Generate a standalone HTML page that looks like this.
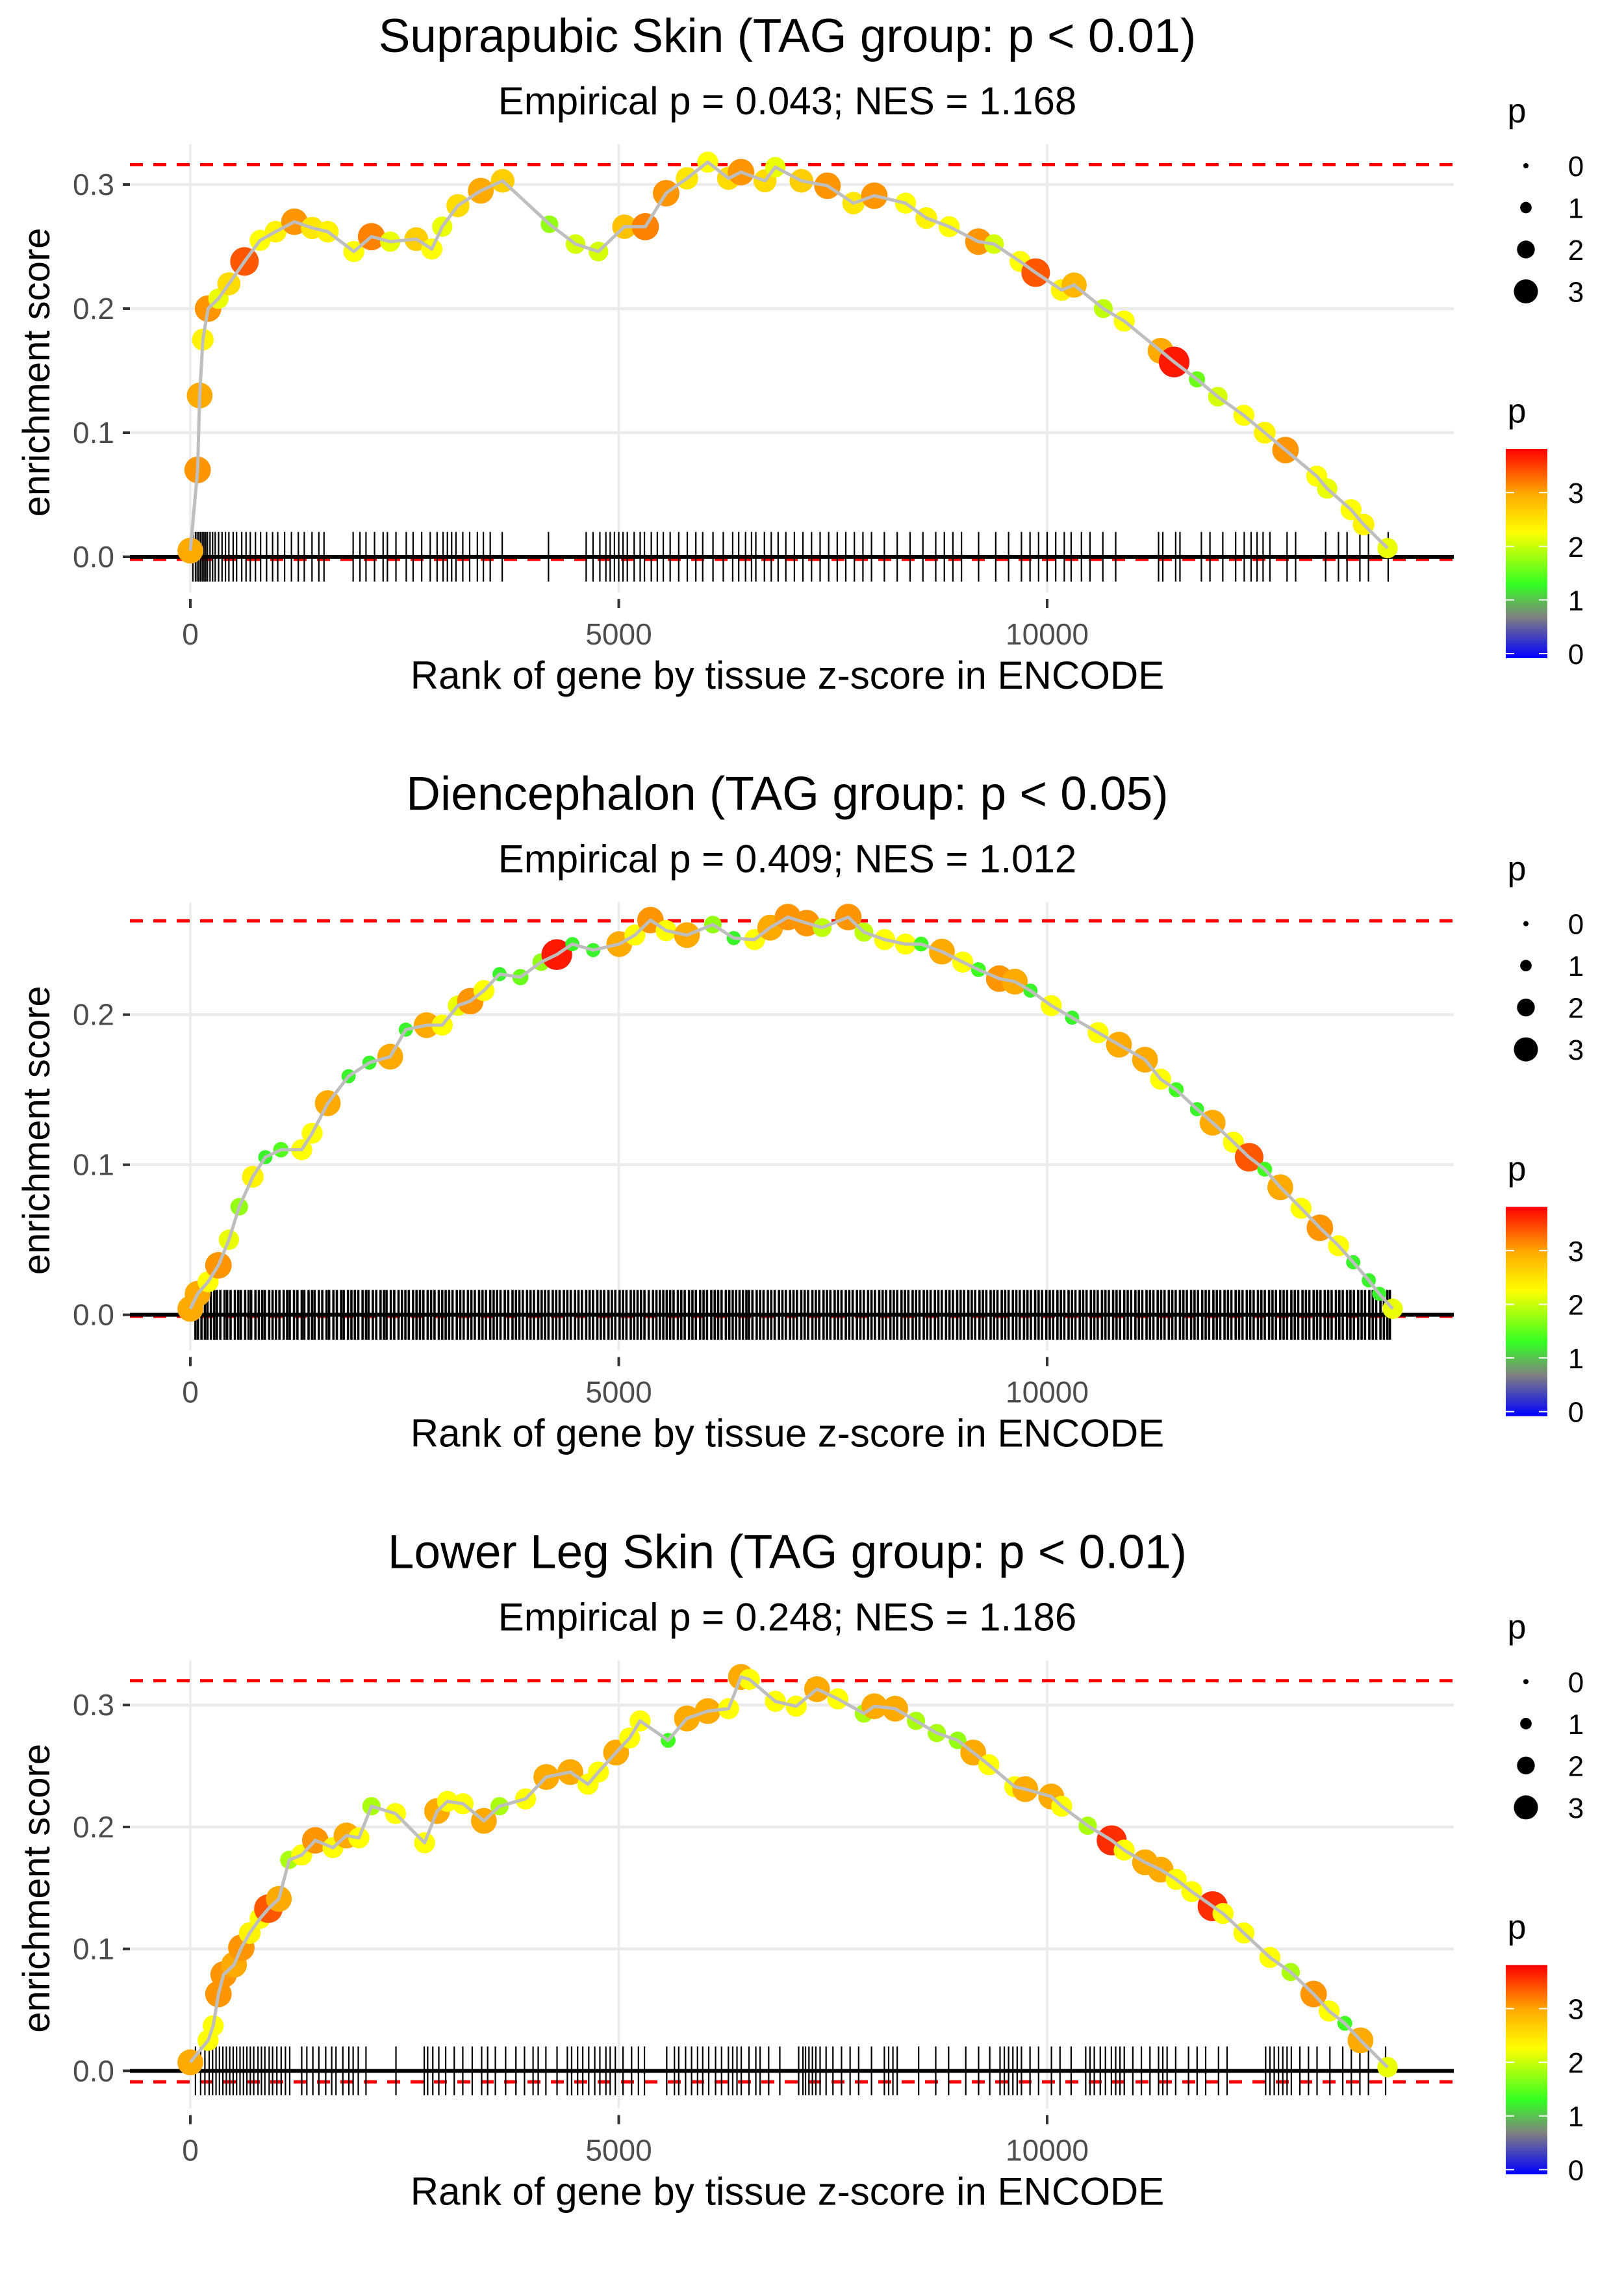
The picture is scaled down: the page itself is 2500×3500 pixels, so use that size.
<!DOCTYPE html>
<html>
<head>
<meta charset="utf-8">
<style>
html,body{margin:0;padding:0;background:#fff;}
svg{display:block;font-family:"Liberation Sans",sans-serif;}
</style>
</head>
<body>
<svg id="chart" width="2500" height="3500" viewBox="0 0 2500 3500" xmlns="http://www.w3.org/2000/svg">
<defs>
<linearGradient id="pgrad" x1="0" y1="1" x2="0" y2="0">
<stop offset="0" stop-color="#0000ff"/>
<stop offset="0.196" stop-color="#808080"/>
<stop offset="0.353" stop-color="#33ff22"/>
<stop offset="0.602" stop-color="#ffff00"/>
<stop offset="0.785" stop-color="#ffaa00"/>
<stop offset="1" stop-color="#ff0000"/>
</linearGradient>
</defs>
</svg>
<script>
// ---------- data ----------
const panelTitles = ["Suprapubic Skin (TAG group: p < 0.01)","Diencephalon (TAG group: p < 0.05)","Lower Leg Skin (TAG group: p < 0.01)"];
const panelSubtitles = ["Empirical p = 0.043; NES = 1.168","Empirical p = 0.409; NES = 1.012","Empirical p = 0.248; NES = 1.186"];
const xTicks = [0,5000,10000];
const xTickLabels = ["0","5000","10000"];
const yTicks1 = [0,0.1,0.2,0.3];
const yTicks2 = [0,0.1,0.2];
const yTicks3 = [0,0.1,0.2,0.3];
const yTickLabels1 = ["0.0","0.1","0.2","0.3"];
const yTickLabels2 = ["0.0","0.1","0.2"];
const yTickLabels3 = ["0.0","0.1","0.2","0.3"];
const esMax = [0.316,0.2625,0.32];
const esMin = [-0.002,-0.001,-0.009];
const sizeLegendValues = [0,1,2,3];
const colorLegendValues = [0,1,2,3];

const p1Rank = [0,85,109,146,207,328,450,632,814,996,1215,1422,1604,1908,2114,2333,2637,2819,2940,3123,3390,3645,4192,4496,4763,5067,5310,5553,5796,6039,6282,6427,6707,6828,7132,7436,7740,7983,8347,8590,8857,9198,9380,9684,9866,10170,10315,10656,10899,11324,11482,11749,11992,12296,12539,12782,13146,13268,13547,13693,13973];
const p1ES = [0.005,0.07,0.13,0.175,0.2,0.208,0.22,0.238,0.255,0.262,0.27,0.265,0.262,0.246,0.258,0.254,0.256,0.248,0.266,0.283,0.295,0.303,0.268,0.252,0.246,0.266,0.266,0.293,0.305,0.318,0.305,0.31,0.303,0.314,0.303,0.299,0.285,0.291,0.285,0.273,0.266,0.254,0.252,0.238,0.229,0.215,0.219,0.2,0.19,0.166,0.157,0.143,0.129,0.114,0.1,0.086,0.065,0.055,0.038,0.026,0.007];
const p1P = [3,3.1,3,2.4,3.1,2.2,2.6,3.4,2.3,2.4,3.1,2.5,2.4,2.3,3.2,2.2,2.7,2.3,2.2,2.6,3,2.7,1.8,2.1,2.1,2.8,3.2,3.1,2.5,2.3,2.6,3.1,2.6,2.2,2.7,3.1,2.5,3.1,2.3,2.4,2.3,3.1,2.1,2.3,3.4,2.4,2.9,2,2.3,3,3.7,1.6,2.1,2.3,2.4,3.1,2.3,2.2,2.3,2.4,2.2];
const p1Rug = [30,60,80,100,120,140,160,180,200,230,260,290,330,370,410,450,500,540,600,650,700,760,820,890,960,1020,1100,1180,1260,1330,1420,1500,1560,1900,1980,2050,2150,2250,2300,2400,2520,2600,2700,2800,2880,2950,3000,3050,3100,3180,3260,3350,3420,3500,3640,4180,4620,4700,4780,4850,4900,4950,5000,5050,5100,5180,5250,5300,5380,5450,5520,5600,5700,5800,5900,5980,6100,6220,6330,6400,6480,6550,6600,6700,6780,6860,6950,7050,7150,7250,7350,7450,7550,7650,7750,7850,7950,8100,8250,8400,8550,8700,8800,8900,9000,9200,9400,9550,9700,9800,9900,10000,10100,10200,10280,10400,10500,10650,10800,11300,11350,11500,11550,11800,11900,12050,12200,12300,12380,12450,12520,12600,12800,12900,13250,13400,13500,13650,13750,13980];

const p2Rank = [0,85,207,328,450,571,729,875,1057,1300,1422,1604,1847,2090,2333,2515,2758,2940,3123,3268,3426,3609,3852,4095,4277,4459,4702,5006,5188,5370,5553,5796,6099,6342,6585,6768,6974,7193,7375,7679,7861,8104,8347,8529,8772,9015,9198,9441,9623,9805,10048,10291,10595,10838,11142,11324,11506,11749,11931,12174,12357,12539,12721,12964,13183,13401,13572,13754,13875,14033];
const p2ES = [0.004,0.014,0.022,0.033,0.05,0.072,0.092,0.105,0.11,0.11,0.121,0.141,0.159,0.168,0.172,0.19,0.193,0.193,0.206,0.209,0.216,0.227,0.225,0.235,0.24,0.247,0.243,0.247,0.253,0.263,0.256,0.253,0.26,0.251,0.25,0.258,0.265,0.261,0.258,0.265,0.255,0.25,0.247,0.247,0.242,0.235,0.23,0.224,0.222,0.216,0.206,0.198,0.188,0.18,0.17,0.157,0.15,0.137,0.128,0.115,0.105,0.097,0.085,0.071,0.058,0.046,0.035,0.023,0.014,0.004];
const p2P = [3,3,2.3,3.1,2.2,1.8,2.4,1.3,1.5,2.3,2.3,3,1.3,1.3,3,1.3,3,2.3,2.2,3.1,2.3,1.3,1.6,1.8,3.7,1.3,1.3,3,2.3,3.1,2.3,3,1.8,1.3,2.3,3,3.1,3.1,2,3.1,2,2.3,2.3,1.4,3,2.3,1.4,3.1,3,1.3,2.3,1.3,2.3,3,3,2.3,1.4,1.3,3,2.3,3.4,1.4,3,2.3,3.1,2.3,1.3,1.3,1.3,2.2];
const p2Rug = [60,90,130,170,200,240,280,310,350,400,430,470,520,560,590,640,680,710,760,800,840,870,920,960,1000,1040,1090,1130,1160,1210,1250,1300,1330,1380,1420,1450,1500,1540,1590,1620,1670,1710,1760,1790,1840,1880,1920,1960,2010,2050,2080,2130,2170,2220,2260,2290,2340,2380,2430,2470,2510,2550,2600,2640,2680,2720,2770,2810,2850,2900,2940,2980,3020,3060,3110,3150,3190,3240,3280,3320,3370,3410,3450,3500,3540,3580,3620,3670,3710,3760,3800,3840,3880,3930,3970,4010,4060,4100,4140,4180,4230,4270,4310,4360,4400,4440,4490,4530,4570,4620,4660,4700,4750,4790,4830,4880,4920,4960,5010,5050,5090,5140,5180,5220,5260,5300,5350,5400,5440,5480,5520,5560,5600,5640,5690,5730,5770,5820,5860,5900,5950,5990,6030,6080,6120,6160,6200,6250,6290,6330,6370,6410,6450,6490,6520,6560,6610,6650,6690,6740,6780,6820,6870,6910,6950,7000,7040,7080,7130,7170,7210,7260,7300,7340,7390,7430,7470,7520,7560,7600,7650,7690,7730,7780,7820,7860,7910,7950,7990,8040,8080,8120,8170,8210,8250,8300,8340,8380,8430,8470,8510,8560,8600,8640,8690,8730,8770,8820,8860,8900,8950,8990,9030,9080,9120,9160,9210,9250,9290,9340,9380,9420,9470,9510,9550,9600,9640,9680,9730,9770,9810,9860,9900,9940,9990,10030,10070,10120,10160,10200,10250,10290,10330,10380,10420,10460,10510,10550,10590,10640,10680,10720,10770,10810,10850,10900,10940,10980,11030,11070,11110,11160,11200,11240,11290,11330,11370,11420,11460,11500,11550,11590,11630,11680,11720,11760,11810,11850,11890,11940,11980,12020,12070,12110,12150,12200,12240,12280,12330,12370,12410,12460,12500,12540,12590,12630,12670,12720,12760,12800,12850,12890,12930,12980,13020,13060,13110,13150,13190,13240,13280,13320,13370,13410,13450,13500,13540,13580,13630,13670,13710,13760,13800,13840,13890,13930,13970,14000];

const p3Rank = [0,207,267,328,389,510,595,693,814,911,1033,1154,1300,1458,1665,1823,1968,2114,2394,2734,2880,3001,3183,3426,3609,3912,4155,4435,4641,4763,4969,5127,5249,5577,5796,6039,6282,6427,6525,6828,7071,7314,7557,7861,7983,8226,8469,8712,8955,9137,9319,9623,9744,10048,10170,10473,10753,10899,11142,11324,11506,11688,11931,12053,12296,12600,12843,13110,13292,13474,13657,13973];
const p3ES = [0.007,0.025,0.037,0.063,0.079,0.087,0.101,0.113,0.125,0.133,0.141,0.173,0.177,0.189,0.183,0.193,0.191,0.217,0.211,0.187,0.213,0.221,0.219,0.205,0.217,0.223,0.241,0.245,0.235,0.245,0.261,0.273,0.287,0.271,0.289,0.295,0.297,0.323,0.321,0.303,0.299,0.313,0.305,0.293,0.299,0.297,0.287,0.277,0.271,0.261,0.251,0.233,0.231,0.225,0.217,0.201,0.189,0.181,0.171,0.165,0.157,0.147,0.135,0.129,0.113,0.093,0.081,0.063,0.049,0.039,0.025,0.003];
const p3P = [3,2.3,2.3,3.1,3.1,3,3.1,2.4,2.3,3.4,3,1.9,2.3,3.1,2.3,3,2.3,1.9,2.3,2.3,3,2.3,2.3,3,1.9,2.3,3,3,2.3,2.3,3,2.3,2.3,1.4,3,3,2.3,3,2.3,2.3,2.3,3,2.3,1.9,3,3,1.9,1.9,1.8,3,2.3,2.3,3,3,2.3,1.9,3.6,2.3,3,3,2.3,2.3,3.6,2.3,2.3,2.3,1.9,3.1,2.3,1.4,3,2.2];
const p3Rug = [60,120,170,220,260,300,340,380,420,460,500,540,580,620,660,700,740,790,830,870,920,960,1010,1060,1110,1160,1300,1360,1430,1500,1580,1650,1700,1780,1850,1900,1960,2050,2400,2730,2770,2830,2900,2980,3080,3180,3290,3400,3470,3560,3680,3800,3900,4000,4060,4150,4280,4400,4450,4520,4580,4650,4720,4780,4850,4900,4960,5050,5150,5230,5300,5560,5650,5700,5780,5850,5920,5980,6050,6130,6200,6280,6330,6380,6430,6520,6600,6650,6750,6880,7100,7150,7180,7220,7260,7300,7350,7420,7500,7600,7700,7800,7950,8100,8150,8200,8250,8500,8700,8850,9050,9200,9330,9450,9500,9550,9600,9650,9700,9800,9900,10050,10150,10280,10450,10500,10550,10620,10680,10750,10800,10850,10900,11000,11100,11200,11300,11350,11400,11500,11650,11750,11850,12000,12100,12550,12600,12650,12700,12750,12800,12850,12950,13050,13150,13300,13450,13550,13650,13750,13950];

// ---------- layout / scales ----------
const NS = "http://www.w3.org/2000/svg";
const svg = document.getElementById("chart");
const PANEL_H = 1166.67;
const PLOT_L = 200, PLOT_R = 2238, PLOT_T = 222, PLOT_B = 912;
const TITLE_X = 1212;
const yZero = [857, 857, 854];
const yK = [1910, 2310, 1877];
function xScale(r){ return 293 + r * 0.1319; }
function yScale(i, v){ return yZero[i] - v * yK[i]; }
function sizeR(p){ return 4 + 5.3 * p; }
function legR(p){ return 4 + 4.85 * p; }
const cStops = [[0,[0,0,255]],[0.75,[128,128,128]],[1.35,[51,255,34]],[2.3,[255,255,0]],[3.0,[255,170,0]],[3.82,[255,0,0]]];
function pColor(p){
  if (p <= cStops[0][0]) return "rgb(0,0,255)";
  for (let k=1;k<cStops.length;k++){
    if (p <= cStops[k][0]){
      const a=cStops[k-1], b=cStops[k], t=(p-a[0])/(b[0]-a[0]);
      const c=a[1].map((v,j)=>Math.round(v+(b[1][j]-v)*t));
      return "rgb("+c.join(",")+")";
    }
  }
  return "rgb(255,0,0)";
}
function mk(tag, attrs, parent){
  const el = document.createElementNS(NS, tag);
  for (const k in attrs) el.setAttribute(k, attrs[k]);
  parent.appendChild(el);
  return el;
}
function txt(str, attrs, parent){
  const el = mk("text", attrs, parent);
  el.textContent = str;
  return el;
}

const ranks = [p1Rank,p2Rank,p3Rank];
const ess = [p1ES,p2ES,p3ES];
const ps = [p1P,p2P,p3P];
const rugs = [p1Rug,p2Rug,p3Rug];
const yTicksAll = [yTicks1,yTicks2,yTicks3];
const yTickLabelsAll = [yTickLabels1,yTickLabels2,yTickLabels3];
const rugWidths = [2.2, 3.6, 2.2];

for (let i=0;i<3;i++){
  const g = mk("g", {transform:"translate(0,"+(i*PANEL_H).toFixed(2)+")"}, svg);
  
  

  const t = txt(panelTitles[i], {x:TITLE_X, y:80, "font-size":73, "text-anchor":"middle", fill:"#000"}, g);
  
  
  const st = txt(panelSubtitles[i], {x:TITLE_X, y:176, "font-size":60, "text-anchor":"middle", fill:"#000"}, g);
  
  

  // grid
  const grid = mk("g", {}, g);
  
  
  xTicks.forEach(v=>{
    const l = mk("line", {x1:xScale(v), x2:xScale(v), y1:PLOT_T, y2:PLOT_B, stroke:"#ebebeb", "stroke-width":3.5}, grid);
    
    
  });
  yTicksAll[i].forEach(v=>{
    if (v===0) return;
    const l = mk("line", {x1:PLOT_L, x2:PLOT_R, y1:yScale(i,v), y2:yScale(i,v), stroke:"#ebebeb", "stroke-width":4.5}, grid);
    
    
  });

  // dashed max/min lines
  [esMax[i], esMin[i]].forEach((v,k)=>{
    const l = mk("line", {x1:PLOT_L, x2:PLOT_R, y1:yScale(i,v), y2:yScale(i,v), stroke:"#ff0000", "stroke-width":5, "stroke-dasharray":"20 16"}, g);
    
    
  });

  // rug
  const rug = mk("g", {}, g);
  
  
  const rTop = yScale(i,0) - 0.02*yK[i]*(i===1?0.83:1), rBot = yScale(i,0) + 0.02*yK[i]*(i===1?0.83:1);
  rugs[i].forEach(r=>{
    const l = mk("line", {x1:xScale(r), x2:xScale(r), y1:rTop, y2:rBot, stroke:"#000", "stroke-width":rugWidths[i]}, rug);
    
    
  });

  // zero line
  const zl = mk("line", {x1:PLOT_L, x2:PLOT_R, y1:yScale(i,0), y2:yScale(i,0), stroke:"#000", "stroke-width":6}, g);
  
  

  // points
  const pts = mk("g", {}, g);
  
  
  ranks[i].forEach((r,j)=>{
    const c = mk("circle", {cx:xScale(r), cy:yScale(i,ess[i][j]), r:sizeR(ps[i][j]), fill:pColor(ps[i][j])}, pts);
    
    
  });

  // line
  const d = ranks[i].map((r,j)=>(j?"L":"M")+xScale(r).toFixed(1)+","+yScale(i,ess[i][j]).toFixed(1)).join(" ");
  const pl = mk("path", {d:d, fill:"none", stroke:"#bebebe", "stroke-width":5, "stroke-linejoin":"round"}, g);
  
  

  // y axis
  yTicksAll[i].forEach((v,k)=>{
    const tk = mk("line", {x1:189, x2:200, y1:yScale(i,v), y2:yScale(i,v), stroke:"#333", "stroke-width":4}, g);
    
    
    const lb = txt(yTickLabelsAll[i][k], {x:176, y:yScale(i,v)+16, "font-size":46, "text-anchor":"end", fill:"#4d4d4d"}, g);
    
    
  });
  const yt = txt("enrichment score", {x:0, y:0, "font-size":58, "text-anchor":"middle", fill:"#000", transform:"translate(76,573) rotate(-90)"}, g);
  
  

  // x axis
  xTicks.forEach((v,k)=>{
    const tk = mk("line", {x1:xScale(v), x2:xScale(v), y1:922, y2:936, stroke:"#333", "stroke-width":4}, g);
    
    
    const lb = txt(xTickLabels[k], {x:xScale(v), y:992, "font-size":46, "text-anchor":"middle", fill:"#4d4d4d"}, g);
    
    
  });
  const xt = txt("Rank of gene by tissue z-score in ENCODE", {x:TITLE_X, y:1060, "font-size":60, "text-anchor":"middle", fill:"#000"}, g);
  
  

  // size legend
  const sl = mk("g", {}, g);
  
  
  const slt = txt("p", {x:2335, y:188, "font-size":52, "text-anchor":"middle", fill:"#000"}, sl);
  
  
  sizeLegendValues.forEach((v,k)=>{
    const cy = 255 + k*64.5;
    const c = mk("circle", {cx:2349, cy:cy, r:legR(v)}, sl);
    
    
    const lb = txt(String(v), {x:2426, y:cy+16, "font-size":44, "text-anchor":"middle", fill:"#000"}, sl);
    
    
  });

  // colour legend
  const cl = mk("g", {}, g);
  
  
  const clt = txt("p", {x:2335, y:650, "font-size":52, "text-anchor":"middle", fill:"#000"}, cl);
  
  
  const bar = mk("rect", {x:2318, y:691, width:64, height:322, fill:"url(#pgrad)"}, cl);
  
  
  colorLegendValues.forEach(v=>{
    const cy = 1006 - v*82.6;
    const t1 = mk("line", {x1:2318, x2:2331, y1:cy, y2:cy, stroke:"#fff", "stroke-width":2}, cl);
    
    
    const t2 = mk("line", {x1:2369, x2:2382, y1:cy, y2:cy, stroke:"#fff", "stroke-width":2}, cl);
    
    
    const lb = txt(String(v), {x:2426, y:cy+16, "font-size":44, "text-anchor":"middle", fill:"#000"}, cl);
    
    
  });
}
</script>
</body>
</html>
